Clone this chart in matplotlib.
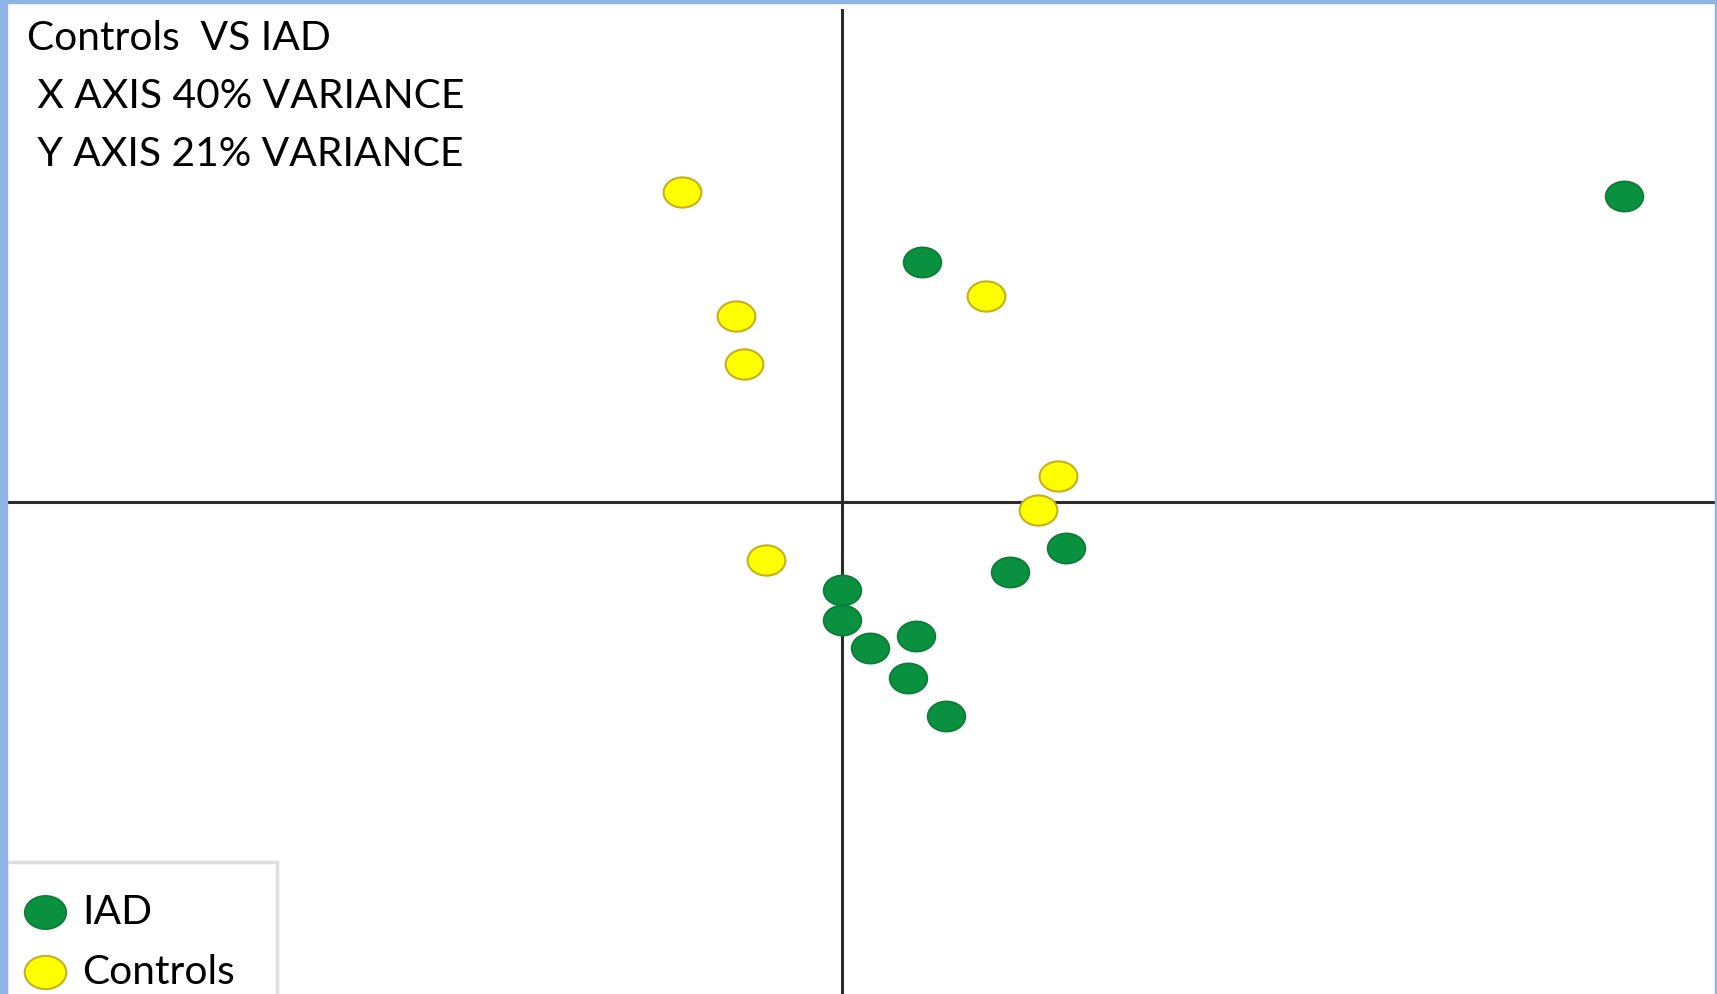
import numpy as np
import matplotlib.pyplot as plt
from matplotlib.path import Path
from matplotlib.transforms import Affine2D
from matplotlib.patches import Rectangle

# PCA scores
iad_x = [3.91, 0.40, 1.12, 0.84, 0.00, 0.00, 0.14, 0.37, 0.33, 0.52]
iad_y = [1.53, 1.20, -0.23, -0.35, -0.44, -0.59, -0.73, -0.67, -0.88, -1.07]

ctrl_x = [-0.80, -0.53, -0.49, 0.72, 1.08, 0.98, -0.38]
ctrl_y = [1.55, 0.93, 0.69, 1.03, 0.13, -0.04, -0.29]

title_lines = ["Controls  VS IAD", " X AXIS 40% VARIANCE", " Y AXIS 21% VARIANCE"]

GREEN = "#0a9140"
GREEN_EDGE = "#0b7a36"
YELLOW = "#ffff00"
YELLOW_EDGE = "#c4b020"
BORDER = "#8fb4e3"

plt.rcParams["font.family"] = ["Lato", "DejaVu Sans"]

# slightly flattened circle as marker
oval = Path.unit_circle().transformed(Affine2D().scale(1.0, 0.8))

fig = plt.figure(figsize=(17.17, 9.94), dpi=100)
ax = fig.add_axes([0, 0, 1, 1])
ax.set_xlim(-4.21, 4.375)
ax.set_ylim(-2.46, 2.51)
ax.axis("off")

# axis cross
ax.axvline(0, ymin=0, ymax=1 - 10 / 994, color="#2b2b2b", lw=2.2, zorder=1)
ax.axhline(0, xmin=7 / 1717, xmax=1715 / 1717, color="#2b2b2b", lw=2.2, zorder=1)

ax.scatter(iad_x, iad_y, s=740, marker=oval, color=GREEN, edgecolors=GREEN_EDGE,
           linewidths=1.2, zorder=3, label="IAD")
ax.scatter(ctrl_x, ctrl_y, s=740, marker=oval, color=YELLOW, edgecolors=YELLOW_EDGE,
           linewidths=1.5, zorder=3, label="Controls")

# text block top-left
y0 = 1 - 38 / 994
for i, line in enumerate(title_lines):
    fig.text(27 / 1717, y0 - i * 58 / 994, line, fontsize=29.3, va="center", ha="left")

leg_top = 1 - 862 / 994
leg = ax.legend(loc="upper left", bbox_to_anchor=(6 / 1717, leg_top - 0.2, 271 / 1717, 0.2),
                bbox_transform=fig.transFigure, borderaxespad=0, fontsize=29.3, mode="expand",
                frameon=True, fancybox=False, markerscale=1.1, handletextpad=0.74,
                borderpad=0.78, labelspacing=0.55, handlelength=0.35, handleheight=0.85)
leg.get_frame().set_edgecolor("#d6d6d6")
leg.get_frame().set_linewidth(2.5)

# blue frame around the slide
fig.patches.append(Rectangle((0, 0), 7 / 1717, 1, transform=fig.transFigure,
                             color=BORDER, zorder=10))
fig.patches.append(Rectangle((0, 1 - 3 / 994), 1, 3 / 994, transform=fig.transFigure,
                             color=BORDER, zorder=10))
fig.patches.append(Rectangle((1 - 2 / 1717, 0), 2 / 1717, 1, transform=fig.transFigure,
                             color=BORDER, zorder=10))

fig.savefig("out.png", dpi=100)
